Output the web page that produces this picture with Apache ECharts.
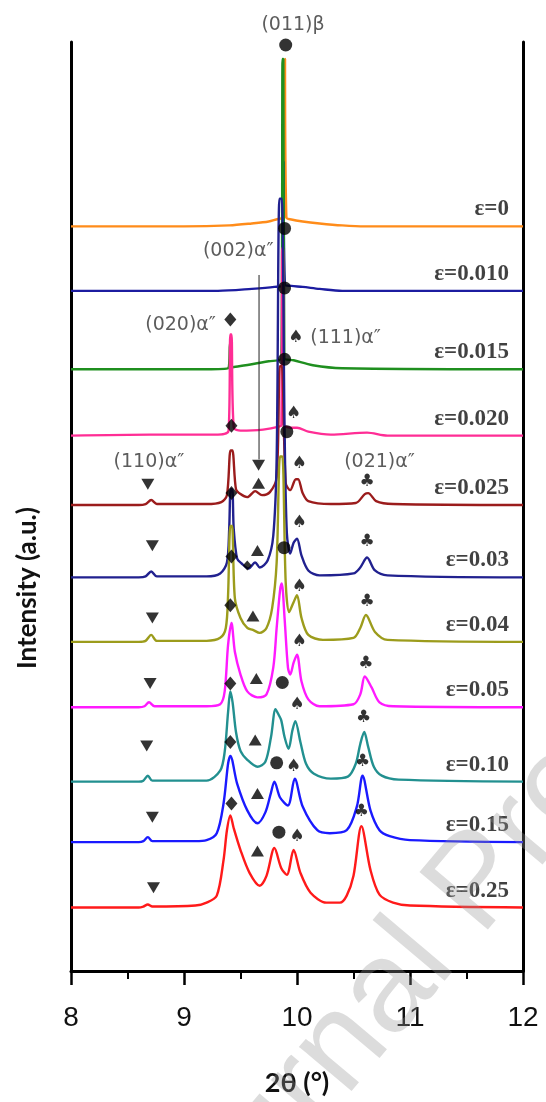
<!DOCTYPE html>
<html><head><meta charset="utf-8">
<script src="https://cdn.jsdelivr.net/npm/echarts@6/dist/echarts.min.js"></script>
<style>html,body{margin:0;padding:0;background:#fff}#c{width:546px;height:1102px}</style>
</head><body><div id="c"></div>
<script>
// ---- data (2θ in degrees, intensity in arbitrary units above each pattern's baseline) ----
const strainLabels = ['ε=0','ε=0.010','ε=0.015','ε=0.020','ε=0.025','ε=0.03','ε=0.04','ε=0.05','ε=0.10','ε=0.15','ε=0.25'];
const colors = ['#ff8c1a','#1c1ca0','#1f8f1f','#ff2d95','#9b1c1c','#21218f','#9c9c1c','#ff1aff','#229090','#1a1aff','#ff1a1a'];
const offsets = [751,686,607,540,470,397,332,266,191,130,64];

const eps0   = [[8,0],[9.0,0],[9.4,1],[9.6,3],[9.75,5],[9.86,8],[9.888,8],[9.894,169],[9.9,169],[9.906,9],[9.95,7],[10.05,5],[10.2,3],[10.4,1],[10.6,0],[12,0]];
const eps010 = [[8,0],[9.3,0],[9.6,2],[9.8,4],[9.876,6],[9.882,130],[9.888,130],[9.894,6],[9.95,5],[10.05,4],[10.2,2],[10.4,0],[12,0]];
const eps015 = [[8,0],[9.2,0],[9.39,1],[9.408,27],[9.416,27],[9.426,2],[9.6,5],[9.75,8],[9.862,11],[9.872,313],[9.879,313],[9.888,11],[9.97,9],[10.14,4],[10.4,1],[12,0]];
const eps020 = [[8,0],[8.7,1],[9.3,1],[9.395,5],[9.41,102],[9.42,102],[9.44,8],[9.5,5],[9.7,6],[9.84,9],[9.862,11],[9.869,189],[9.876,189],[9.884,11],[9.94,8],[10.0,8],[10.1,4],[10.3,1],[10.62,3],[10.8,0],[12,0]];
const eps025 = [[8,0],[8.6,0],[8.66,1],[8.71,5],[8.76,1],[9.2,1],[9.33,3],[9.38,10],[9.412,55],[9.428,55],[9.46,16],[9.5,11],[9.56,8],[9.63,14],[9.69,10],[9.76,13],[9.82,28],[9.848,140],[9.866,140],[9.9,22],[9.94,15],[9.99,26],[10.01,26],[10.05,12],[10.1,4],[10.3,1],[10.52,2],[10.6,11],[10.63,12],[10.7,4],[10.85,1],[12,0]];
const eps03  = [[8,0],[8.6,0],[8.66,1],[8.71,6],[8.76,1],[9.2,1],[9.32,4],[9.38,15],[9.4,49],[9.413,89],[9.427,89],[9.44,49],[9.47,19],[9.51,14],[9.57,9],[9.63,15],[9.67,10],[9.74,17],[9.79,42],[9.82,120],[9.845,382],[9.865,382],[9.89,150],[9.91,45],[9.94,24],[9.97,35],[10.0,39],[10.04,22],[10.1,7],[10.2,2],[10.5,4],[10.56,10],[10.62,20],[10.69,7],[10.8,2],[12,0]];
const eps04  = [[8,0],[8.6,0],[8.66,1],[8.71,7],[8.76,1],[9.2,1],[9.32,4],[9.37,14],[9.39,47],[9.41,117],[9.425,117],[9.45,44],[9.5,24],[9.56,14],[9.61,12],[9.67,9],[9.73,14],[9.78,34],[9.82,80],[9.85,187],[9.87,187],[9.9,60],[9.93,30],[9.97,40],[10.0,47],[10.04,24],[10.1,7],[10.23,2],[10.5,4],[10.56,14],[10.61,27],[10.69,10],[10.8,2],[12,0]];
const eps05  = [[8,0],[8.6,0],[8.65,1],[8.69,5],[8.74,1],[9.2,1],[9.32,3],[9.36,16],[9.39,63],[9.42,85],[9.45,56],[9.5,33],[9.56,16],[9.65,10],[9.73,13],[9.79,40],[9.82,80],[9.85,118],[9.865,125],[9.89,90],[9.92,40],[9.94,33],[9.97,45],[10.0,53],[10.04,26],[10.1,8],[10.2,1],[10.5,3],[10.56,13],[10.6,31],[10.66,20],[10.73,5],[10.85,1],[12,0]];
const eps10  = [[8,0],[8.6,0],[8.64,1],[8.68,6],[8.72,1],[9.2,1],[9.32,11],[9.36,30],[9.39,70],[9.41,91],[9.43,80],[9.46,50],[9.5,31],[9.56,22],[9.65,15],[9.72,20],[9.77,45],[9.81,73],[9.835,68],[9.86,62],[9.89,45],[9.925,33],[9.96,52],[9.985,61],[10.03,40],[10.08,18],[10.15,8],[10.3,3],[10.45,5],[10.52,18],[10.56,38],[10.595,50],[10.63,35],[10.68,15],[10.75,6],[10.9,2],[12,0]];
const eps15  = [[8,0],[8.6,0],[8.64,1],[8.68,5],[8.72,1],[9.1,1],[9.2,2],[9.29,9],[9.35,39],[9.39,79],[9.41,87],[9.47,59],[9.56,32],[9.65,19],[9.72,30],[9.77,50],[9.8,61],[9.85,45],[9.92,37],[9.98,64],[10.05,36],[10.18,12],[10.29,9],[10.44,12],[10.53,36],[10.58,67],[10.65,32],[10.73,12],[10.82,6],[11.0,2],[12,0]];
const eps25  = [[8,0],[8.6,0],[8.64,1],[8.68,3],[8.72,1],[9.1,2],[9.2,5],[9.29,12],[9.35,48],[9.38,78],[9.41,93],[9.44,80],[9.5,58],[9.58,35],[9.67,22],[9.73,32],[9.8,60],[9.86,40],[9.91,33],[9.97,58],[10.03,35],[10.12,15],[10.26,5],[10.38,5],[10.44,12],[10.5,32],[10.57,82],[10.65,38],[10.73,13],[10.85,5],[11.0,2],[12,0]];
const patterns = [eps0,eps010,eps015,eps020,eps025,eps03,eps04,eps05,eps10,eps15,eps25];

// peak markers (2θ, plot units)
const circleMarks  = [[9.90,934],[9.89,749],[9.89,689],[9.89,617],[9.91,544],[9.885,427],[9.87,291],[9.82,210],[9.84,140]];
const diamondMarks = [[9.41,657],[9.42,550],[9.42,482],[9.42,418],[9.41,369],[9.41,290],[9.41,231],[9.42,169]];
const smallDiamondMarks = [[9.56,409]];
const spadeMarks   = [[9.99,639],[9.97,562],[10.02,512],[10.02,452],[10.02,388],[10.02,332],[10.00,269],[9.97,206],[10.00,136]];
const triUpMarks   = [[9.66,492],[9.65,424],[9.61,358],[9.64,295],[9.63,233],[9.65,179],[9.65,121]];
const triDownMarks = [[9.66,510],[8.68,491],[8.72,429],[8.72,356],[8.70,290],[8.67,227],[8.72,155],[8.73,84]];
const clubMarks    = [[10.62,494],[10.62,433],[10.62,373],[10.61,310],[10.59,256],[10.58,211],[10.57,161]];
const peakNames    = ['(011)β','(002)α″','(020)α″','(111)α″','(110)α″','(021)α″'];
const peakNamePos  = [[9.965,954],[9.48,726],[8.97,652],[10.43,638],[8.69,513],[10.73,513]];
const arrowLine    = [[9.664,702],[9.664,516]];
const labelX = 11.88, labelLift = 17;
const xTicks = [8,9,10,11,12];

// ---- chart ----
const chart = echarts.init(document.getElementById('c'), null, {renderer:'canvas'});
const series = [];
patterns.forEach((p,i)=>{
  series.push({
    type:'line', name:strainLabels[i], data:p.map(([x,h])=>[x,h+offsets[i]]),
    showSymbol:false, smooth:0.3, clip:true,
    lineStyle:{color:colors[i], width:2.4}, itemStyle:{color:colors[i]}, z:2+i*0.01
  });
});
const blk = '#000';
series.push({type:'scatter', data:circleMarks, symbol:'circle', symbolSize:13, itemStyle:{color:blk}, z:10, clip:false});
series.push({type:'scatter', data:diamondMarks, symbol:'diamond', symbolSize:[12,14], itemStyle:{color:blk}, z:10, clip:false});
series.push({type:'scatter', data:smallDiamondMarks, symbol:'diamond', symbolSize:[9,10], itemStyle:{color:blk}, z:10, clip:false});
series.push({type:'scatter', data:triUpMarks, symbol:'triangle', symbolSize:[13,11], itemStyle:{color:blk}, z:10, clip:false});
series.push({type:'scatter', data:triDownMarks, symbol:'triangle', symbolRotate:180, symbolSize:[13,11], itemStyle:{color:blk}, z:10, clip:false});
const glyphSeries = (data, ch) => ({type:'scatter', data, symbolSize:1, itemStyle:{color:'rgba(0,0,0,0)'}, z:10, clip:false,
  label:{show:true, position:'inside', formatter:ch, fontSize:17, color:'#000', fontFamily:'DejaVu Sans'}});
series.push(glyphSeries(spadeMarks,'♠'));
series.push(glyphSeries(clubMarks,'♣'));
series.push({type:'scatter', data:peakNamePos.map((p,i)=>({value:p, name:peakNames[i]})), symbolSize:1,
  itemStyle:{color:'rgba(0,0,0,0)'}, z:11, clip:false,
  label:{show:true, position:'inside', formatter:'{b}', fontSize:19, color:'#333', fontFamily:'DejaVu Sans'}});
series.push({type:'line', data:arrowLine, showSymbol:false, lineStyle:{color:'#222', width:1}, z:9});
series.push({type:'scatter', data:offsets.map((o,i)=>({value:[labelX,o+labelLift], name:strainLabels[i]})), symbolSize:1,
  itemStyle:{color:'rgba(0,0,0,0)'}, z:11, clip:false,
  label:{show:true, position:'left', distance:0, formatter:'{b}', fontSize:23, fontWeight:'bold', color:'#111', fontFamily:'Liberation Serif'}});

chart.setOption({
  animation:false,
  backgroundColor:'#fff',
  grid:{left:71, right:23, top:42, bottom:123},
  xAxis:{type:'value', min:xTicks[0], max:xTicks[xTicks.length-1], interval:1,
    axisLine:{lineStyle:{color:'#000', width:3}},
    axisTick:{length:14, lineStyle:{color:'#000', width:2.5}},
    minorTick:{show:true, splitNumber:2, length:8, lineStyle:{color:'#000', width:2}},
    axisLabel:{fontSize:28, color:'#111', margin:33, fontFamily:'Liberation Sans'},
    splitLine:{show:false},
    name:'2θ (°)', nameLocation:'middle', nameGap:99,
    nameTextStyle:{fontSize:27, fontWeight:'bold', color:'#111', fontFamily:'Lato'}},
  yAxis:[
    {type:'value', min:0, max:937, position:'left', axisLine:{show:true, lineStyle:{color:'#000', width:3}},
      axisTick:{show:false}, axisLabel:{show:false}, splitLine:{show:false}},
    {type:'value', min:0, max:937, position:'right', axisLine:{show:true, lineStyle:{color:'#000', width:3}},
      axisTick:{show:false}, axisLabel:{show:false}, splitLine:{show:false}}
  ],
  graphic:[
    {type:'text', x:28, y:588, rotation:Math.PI/2, z:20,
      style:{text:'Intensity (a.u.)', fontSize:26, fontWeight:'bold', fontFamily:'Lato', fill:'#111', align:'center', verticalAlign:'middle'}},
    {type:'text', x:205, y:1310, rotation:0.87, z:30, silent:true,
      style:{text:'Journal Pre-proof', fontSize:130, fontFamily:'Liberation Sans', fill:'rgba(150,150,150,0.33)', align:'left', verticalAlign:'bottom'}}
  ],
  series
});
</script></body></html>
